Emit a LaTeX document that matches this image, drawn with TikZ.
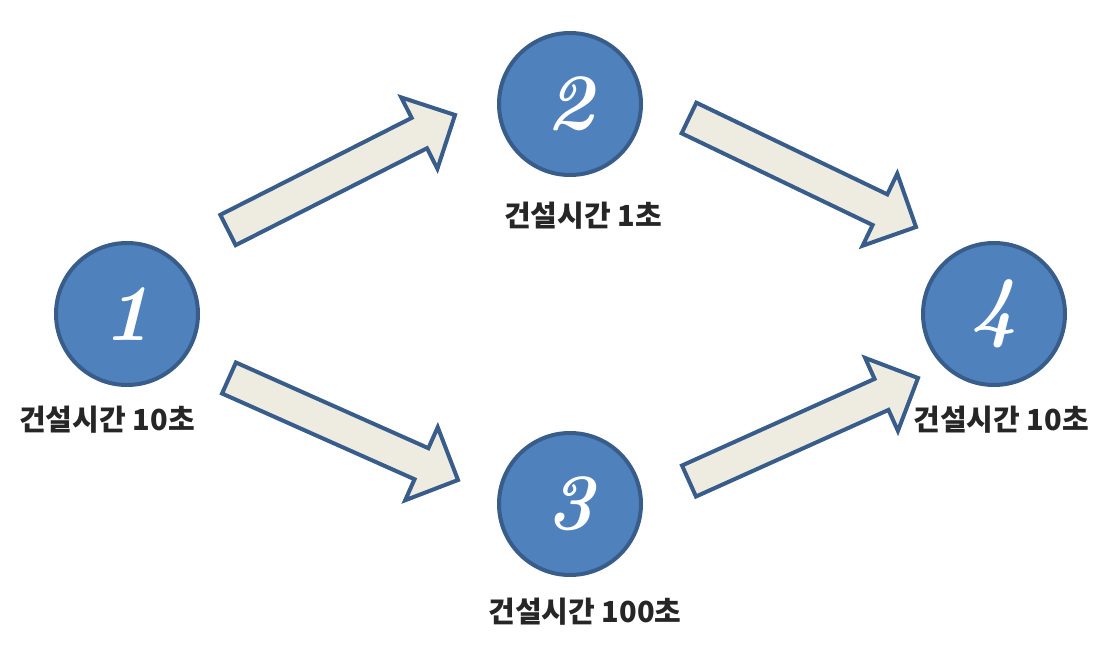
\documentclass[tikz,border=0pt]{standalone}
\usepackage{fontspec}
\newfontfamily\kr{Noto Sans CJK KR}
\usetikzlibrary{calc}
\definecolor{cfill}{RGB}{79,129,189}
\definecolor{cline}{RGB}{56,93,138}
\definecolor{afill}{RGB}{238,236,225}
\tikzset{
  stage/.style={circle, fill=cfill, draw=cline, line width=4pt, minimum size=142pt, inner sep=0pt,
    text=white, font=\fontsize{80}{80}\selectfont\bfseries\itshape},
  lbl/.style={font=\kr\bfseries\fontsize{29}{32}\selectfont, text=black!85, inner sep=0pt},
  arrowbox/.style={fill=afill, draw=cline, line width=4pt, line join=miter}
}
\newcommand{\blockarr}[2]{%
  \coordinate (#1h) at ($(#2)!40pt!(#1)$);
  \draw[arrowbox] ($(#1)!17pt!90:(#2)$) -- ($(#1h)!17pt!90:(#2)$) -- ($(#1h)!40pt!90:(#2)$)
    -- (#2) -- ($(#1h)!40pt!-90:(#2)$) -- ($(#1h)!17pt!-90:(#2)$) -- ($(#1)!17pt!-90:(#2)$) -- cycle;
}
\begin{document}
\begin{tikzpicture}[x=1pt,y=-1pt]
\useasboundingbox[fill=white] (0,0) rectangle (1114,652);
\node[stage] (c1) at (127,314) {1};
\node[stage] (c2) at (570,104) {2};
\node[stage] (c3) at (570,504) {3};
\node[stage] (c4) at (994,314) {4};
\node[lbl] (l1) at (107,420) {건설시간 10초};
\node[lbl] (l2) at (583,216) {건설시간 1초};
\node[lbl] (l3) at (585,612) {건설시간 100초};
\node[lbl] (l4) at (1001,420) {건설시간 10초};
\coordinate (s12) at (228,230); \coordinate (e12) at (455,115);
\coordinate (s24) at (689,118); \coordinate (e24) at (916,227);
\coordinate (s13) at (229,378); \coordinate (e13) at (458,480);
\coordinate (s34) at (689,481); \coordinate (e34) at (918,378);
\blockarr{s12}{e12}
\blockarr{s24}{e24}
\blockarr{s13}{e13}
\blockarr{s34}{e34}
\end{tikzpicture}
\end{document}
